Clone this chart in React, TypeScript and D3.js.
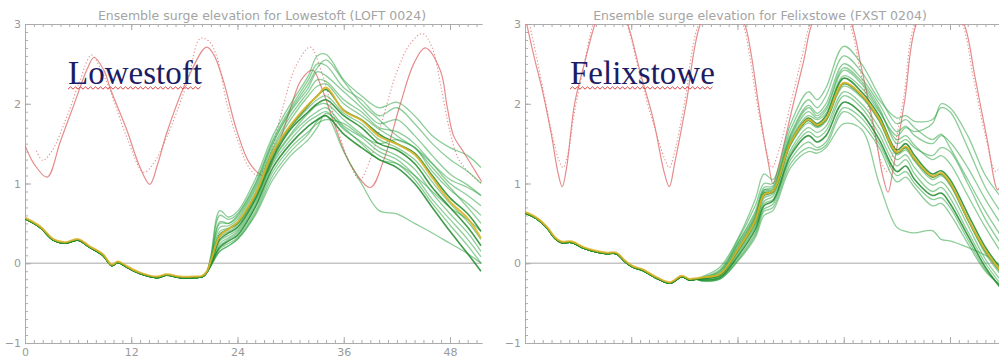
import React, { useRef, useEffect } from "react";
import * as d3 from "d3";

// ---- Lowestoft (left panel) ----
const tideHoursL = [0, 1, 2.5, 4, 5.5, 7, 7.8, 9, 9.6, 11.5, 13, 14.1, 15, 16, 18.3, 20.5, 21.3, 22.4, 23.9, 25.4, 27, 28.5, 30, 31.2, 32.5, 33.5, 34.8, 36.7, 39, 40.5, 42.4, 43.9, 45.2, 46.9, 47.7, 48.4, 49.5, 50.5, 51.6];
const tideL = [1.48, 1.25, 1.08, 1.53, 1.98, 2.43, 2.58, 2.4, 2.2, 1.67, 1.2, 0.99, 1.25, 1.63, 2.3, 2.71, 2.62, 2.29, 1.67, 1.25, 1.1, 1.45, 1.95, 2.3, 2.42, 2.2, 1.79, 1.25, 0.95, 1.29, 2.0, 2.5, 2.7, 2.42, 1.95, 1.6, 1.4, 1.22, 1.02];
const tideDotHoursL = [1.3, 2.0, 3, 4.7, 6.2, 7.5, 8.5, 9.6, 11.5, 13.4, 14.5, 16, 18.3, 19.8, 20.8, 21.7, 22.8, 24, 25.3, 26.3, 27.5, 29, 30.5, 32.2, 33.5, 35, 36.5, 37.8, 39, 40.5, 42, 43.5, 44.9, 46, 47, 48, 49, 50.5, 51.6];
const tideDotL = [1.41, 1.29, 1.4, 1.83, 2.29, 2.61, 2.45, 2.17, 1.58, 1.14, 1.25, 1.58, 2.26, 2.82, 2.78, 2.58, 2.0, 1.55, 1.2, 1.1, 1.3, 1.9, 2.45, 2.71, 2.4, 1.8, 1.3, 1.05, 1.3, 1.85, 2.4, 2.75, 2.88, 2.7, 2.2, 1.65, 1.3, 1.1, 1.0];

const leadHoursL = [0, 1.7, 3.2, 4.5, 6, 7.3, 8.8, 9.8, 10.5, 11.5, 13, 14.9, 16, 17.5, 19, 20, 20.5];
const leadL = [0.56, 0.45, 0.29, 0.25, 0.29, 0.2, 0.1, -0.03, 0.01, -0.05, -0.13, -0.18, -0.15, -0.18, -0.18, -0.17, -0.12];
const memberHoursL = [21, 22, 23, 24, 26, 28, 30, 32, 33, 34, 36, 38, 40, 42, 44, 46, 48, 50, 51.5];
const membersL = [
  [0.1, 0.66, 0.58, 0.65, 1.05, 1.6, 2.0, 2.35, 2.6, 2.62, 2.3, 2.1, 1.95, 2.02, 1.85, 1.6, 1.45, 1.35, 1.2],
  [0.08, 0.6, 0.55, 0.62, 1.0, 1.55, 1.95, 2.3, 2.5, 2.48, 2.2, 2.05, 1.85, 1.95, 1.75, 1.5, 1.3, 1.15, 1.0],
  [0.05, 0.52, 0.5, 0.58, 0.95, 1.5, 1.9, 2.2, 2.4, 2.35, 2.15, 1.95, 1.75, 1.8, 1.6, 1.35, 1.12, 0.98, 0.85],
  [0.05, 0.45, 0.47, 0.55, 0.92, 1.45, 1.85, 2.15, 2.3, 2.28, 2.05, 1.9, 1.7, 1.65, 1.5, 1.25, 1.0, 0.85, 0.72],
  [0.04, 0.4, 0.44, 0.52, 0.88, 1.42, 1.8, 2.1, 2.22, 2.25, 2.0, 1.85, 1.68, 1.55, 1.45, 1.15, 0.92, 0.75, 0.6],
  [0.02, 0.36, 0.43, 0.5, 0.85, 1.38, 1.72, 1.98, 2.1, 2.18, 1.92, 1.8, 1.62, 1.5, 1.38, 1.1, 0.82, 0.62, 0.4],
  [0.02, 0.33, 0.4, 0.48, 0.82, 1.35, 1.7, 1.95, 2.05, 2.1, 1.88, 1.75, 1.55, 1.45, 1.3, 1.02, 0.75, 0.52, 0.3],
  [0.0, 0.3, 0.38, 0.45, 0.8, 1.32, 1.68, 1.9, 2.0, 2.05, 1.85, 1.7, 1.5, 1.42, 1.25, 0.95, 0.7, 0.45, 0.22],
  [0.0, 0.28, 0.35, 0.42, 0.78, 1.3, 1.62, 1.88, 1.98, 2.0, 1.8, 1.62, 1.45, 1.35, 1.18, 0.88, 0.62, 0.38, 0.15],
  [0.0, 0.25, 0.32, 0.4, 0.75, 1.28, 1.6, 1.82, 1.9, 1.95, 1.72, 1.58, 1.4, 1.3, 1.1, 0.8, 0.55, 0.3, 0.08],
  [-0.02, 0.22, 0.3, 0.38, 0.72, 1.25, 1.55, 1.78, 1.85, 1.9, 1.68, 1.52, 1.35, 1.25, 1.05, 0.75, 0.48, 0.22, 0.0],
  [-0.02, 0.2, 0.28, 0.35, 0.7, 1.2, 1.5, 1.72, 1.8, 1.85, 1.62, 1.45, 1.3, 1.2, 1.0, 0.7, 0.4, 0.12, -0.1],
  [-0.03, 0.18, 0.25, 0.32, 0.65, 1.15, 1.45, 1.65, 1.75, 1.8, 1.75, 1.6, 1.5, 1.55, 1.45, 1.25, 1.05, 0.95, 0.85],
  [-0.03, 0.15, 0.22, 0.3, 0.62, 1.1, 1.4, 1.62, 1.78, 1.85, 1.4, 1.0, 0.66, 0.62, 0.5, 0.38, 0.25, 0.12, 0.0],
  [-0.03, 0.15, 0.22, 0.3, 0.6, 1.05, 1.35, 1.55, 1.7, 1.88, 1.7, 1.5, 1.3, 1.25, 1.1, 0.9, 0.7, 0.55, 0.4],
  [0.06, 0.5, 0.5, 0.6, 0.98, 1.52, 1.92, 2.25, 2.45, 2.55, 2.28, 2.0, 1.8, 1.6, 1.45, 1.2, 0.95, 0.7, 0.5],
];
const darkL = [5, 7, 11];
const meanL = [0.02, 0.33, 0.42, 0.5, 0.85, 1.38, 1.72, 1.98, 2.08, 2.19, 1.9, 1.78, 1.58, 1.48, 1.35, 1.06, 0.76, 0.55, 0.3];

// ---- Felixstowe (right panel) ----
const tideHoursR = [0, 1, 2, 3, 3.7, 4.2, 4.7, 5.6, 6.7, 7.9, 9.7, 11.6, 13, 14.5, 15.7, 16.3, 16.9, 18.2, 19.8, 22.3, 24.8, 25.5, 26.5, 27.5, 28.0, 28.6, 30.2, 31.5, 32.4, 34.8, 36.9, 38, 39.5, 40.4, 41, 41.6, 42.9, 44.2, 47, 49.6, 50.8, 52.2, 53.4, 54.5];
const tideR = [3.1, 2.6, 2.15, 1.6, 1.15, 0.96, 1.2, 2.0, 2.5, 3.0, 3.5, 3.0, 2.4, 1.8, 1.15, 0.96, 1.25, 2.0, 3.0, 3.5, 3.0, 2.65, 1.9, 1.25, 1.0, 1.2, 1.95, 2.55, 3.0, 3.5, 3.0, 2.45, 1.65, 1.1, 0.89, 1.2, 2.05, 3.0, 3.5, 3.0, 2.35, 1.55, 0.92, 1.5];
const tideDotHoursR = [0, 1, 2, 3, 3.8, 4.3, 4.8, 5.6, 6.7, 7.7, 9.6, 11.5, 13, 14.5, 15.8, 16.3, 16.8, 18, 19.6, 22.2, 24.6, 25.3, 26.3, 27.4, 27.9, 28.5, 30, 31.3, 32.2, 34.6, 36.7, 37.8, 39.3, 40.3, 40.9, 41.5, 42.8, 44, 46.8, 49.4, 50.6, 52, 53.2, 54.5];
const tideDotR = [3.25, 2.75, 2.2, 1.65, 1.3, 1.2, 1.35, 1.9, 2.5, 3.0, 3.5, 3.0, 2.35, 1.75, 1.3, 1.2, 1.35, 2.0, 3.0, 3.5, 3.0, 2.65, 1.95, 1.35, 1.2, 1.35, 2.0, 2.6, 3.0, 3.5, 3.0, 2.45, 1.7, 1.25, 1.15, 1.35, 2.1, 3.0, 3.5, 3.0, 2.35, 1.6, 1.15, 1.5];

const leadHoursR = [0, 1.3, 2.5, 3.4, 4.1, 5.3, 6.6, 8.1, 9.2, 10.3, 11.3, 12.2, 13.3, 14.9, 16.4, 17.7, 18.6, 19.3];
const leadR = [0.63, 0.56, 0.44, 0.31, 0.26, 0.26, 0.19, 0.14, 0.12, 0.12, 0.02, -0.05, -0.09, -0.19, -0.25, -0.17, -0.21, -0.2];
const memberHoursR = [20, 22, 24, 26, 27, 28, 30, 32, 33, 34, 36, 38, 40, 42, 43, 44, 46, 47, 48, 50, 52, 54];
const membersR = [
  [-0.17, -0.05, 0.3, 0.8, 1.12, 1.05, 1.75, 2.15, 2.05, 2.2, 2.72, 2.5, 2.1, 1.75, 1.8, 1.7, 1.55, 1.62, 1.45, 1.05, 0.65, 0.3],
  [-0.18, -0.08, 0.28, 0.72, 1.0, 1.0, 1.68, 2.05, 1.95, 2.1, 2.6, 2.4, 2.05, 1.82, 1.85, 1.78, 1.8, 1.95, 1.9, 1.45, 0.95, 0.6],
  [-0.18, -0.1, 0.25, 0.65, 0.95, 0.97, 1.62, 1.98, 1.88, 2.0, 2.5, 2.32, 2.0, 1.65, 1.72, 1.6, 1.5, 1.6, 1.52, 1.2, 0.8, 0.45],
  [-0.19, -0.12, 0.2, 0.6, 0.92, 0.93, 1.58, 1.9, 1.82, 1.92, 2.42, 2.25, 1.92, 1.55, 1.6, 1.48, 1.3, 1.35, 1.25, 0.85, 0.45, 0.1],
  [-0.19, -0.14, 0.17, 0.55, 0.88, 0.9, 1.52, 1.82, 1.75, 1.85, 2.32, 2.15, 1.85, 1.42, 1.5, 1.35, 1.12, 1.16, 1.05, 0.62, 0.2, -0.1],
  [-0.2, -0.15, 0.14, 0.5, 0.82, 0.87, 1.48, 1.76, 1.7, 1.78, 2.22, 2.08, 1.78, 1.36, 1.42, 1.28, 1.05, 1.1, 0.98, 0.55, 0.12, -0.18],
  [-0.2, -0.16, 0.12, 0.48, 0.78, 0.84, 1.42, 1.7, 1.64, 1.72, 2.15, 2.0, 1.7, 1.3, 1.36, 1.2, 0.98, 1.02, 0.9, 0.48, 0.05, -0.25],
  [-0.21, -0.17, 0.1, 0.45, 0.75, 0.8, 1.38, 1.65, 1.58, 1.66, 2.1, 1.95, 1.62, 1.22, 1.3, 1.12, 0.9, 0.95, 0.82, 0.4, 0.0, -0.3],
  [-0.21, -0.18, 0.08, 0.42, 0.72, 0.78, 1.35, 1.6, 1.52, 1.6, 2.02, 1.88, 1.55, 1.15, 1.22, 1.05, 0.85, 0.88, 0.75, 0.35, -0.05, -0.35],
  [-0.22, -0.19, 0.05, 0.38, 0.68, 0.74, 1.3, 1.52, 1.45, 1.52, 1.95, 1.82, 1.5, 1.1, 1.15, 1.0, 0.8, 0.82, 0.7, 0.3, -0.08, -0.32],
  [-0.22, -0.2, 0.03, 0.35, 0.65, 0.7, 1.25, 1.45, 1.42, 1.48, 1.9, 1.75, 1.45, 1.02, 1.08, 0.95, 0.72, 0.75, 0.62, 0.25, -0.1, -0.3],
  [-0.22, -0.2, 0.02, 0.32, 0.6, 0.66, 1.2, 1.4, 1.38, 1.45, 1.75, 1.68, 1.0, 0.45, 0.4, 0.38, 0.41, 0.3, 0.28, 0.2, 0.1, -0.05],
  [-0.2, -0.13, 0.22, 0.58, 0.9, 0.92, 1.55, 1.85, 1.8, 1.88, 2.35, 2.2, 1.9, 1.6, 1.7, 1.65, 1.75, 2.0, 1.95, 1.6, 1.1, 0.8],
  [-0.19, -0.1, 0.24, 0.62, 0.92, 0.95, 1.6, 1.95, 1.85, 1.95, 2.45, 2.28, 1.95, 1.5, 1.55, 1.45, 1.35, 1.45, 1.4, 1.0, 0.55, 0.2],
  [-0.19, -0.15, 0.15, 0.52, 0.85, 0.89, 1.5, 1.79, 1.72, 1.8, 2.25, 2.1, 1.8, 1.38, 1.45, 1.3, 1.08, 1.12, 1.0, 0.55, 0.15, -0.15],
];
const darkR = [4, 8, 14];
const meanR = [-0.19, -0.15, 0.15, 0.52, 0.85, 0.89, 1.5, 1.79, 1.72, 1.8, 2.25, 2.1, 1.8, 1.38, 1.45, 1.3, 1.08, 1.12, 1.0, 0.55, 0.15, -0.15];

const yTicks = [-1, 0, 1, 2, 3];
const xTicks = [0, 12, 24, 36, 48];

const panels = [
  {
    id: "L", title: "Ensemble surge elevation for Lowestoft (LOFT 0024)", name: "Lowestoft",
    titleX: 262, nameX: 68, x0: 25, hourMax: 51.6, labels: true,
    tide: [tideHoursL, tideL], tideDot: [tideDotHoursL, tideDotL],
    lead: [leadHoursL, leadL], memberHours: memberHoursL, members: membersL, dark: darkL, mean: meanL,
  },
  {
    id: "R", title: "Ensemble surge elevation for Felixstowe (FXST 0204)", name: "Felixstowe",
    titleX: 760, nameX: 570, x0: 525, hourMax: 54.5, labels: false,
    tide: [tideHoursR, tideR], tideDot: [tideDotHoursR, tideDotR],
    lead: [leadHoursR, leadR], memberHours: memberHoursR, members: membersR, dark: darkR, mean: meanR,
  },
];

const W = 999, H = 360;
const PX_PER_HOUR = 8.854;
const axisColor = "#ababab";

const App = () => {
  const node: any = useRef();

  useEffect(() => {
    const svg = d3.select(node.current);
    svg.selectAll("*").remove();
    const y = d3.scaleLinear().domain([-1, 3]).range([343, 24]);

    panels.forEach((p) => {
      const x = d3.scaleLinear().domain([0, p.hourMax]).range([p.x0, p.x0 + p.hourMax * PX_PER_HOUR]);
      const [xa, xb] = x.range();
      const g = svg.append("g");

      // clip
      svg.append("clipPath").attr("id", "clip" + p.id)
        .append("rect").attr("x", xa).attr("y", y(3)).attr("width", xb - xa).attr("height", y(-1) - y(3));

      // title
      g.append("text").attr("x", p.titleX).attr("y", 20).attr("text-anchor", "middle")
        .attr("font-family", "DejaVu Sans, sans-serif").attr("font-size", 12.5).attr("fill", "#a4a4a4")
        .text(p.title);

      // zero line
      g.append("line").attr("x1", xa).attr("x2", xb).attr("y1", y(0)).attr("y2", y(0))
        .attr("stroke", "#c4c4c4").attr("stroke-width", 1.5);

      const styleAxis = (sel: any) => {
        sel.select(".domain").attr("stroke", axisColor);
        sel.selectAll("line").attr("stroke", axisColor);
        sel.selectAll("text").attr("fill", "#999").attr("font-family", "DejaVu Sans, sans-serif").attr("font-size", 11);
      };

      // y axis
      g.append("g").attr("transform", `translate(${xa},0)`)
        .call(d3.axisLeft(y).tickValues(d3.range(-1, 3.001, 0.1)).tickSizeInner(-3).tickSizeOuter(0).tickFormat(() => ""))
        .call(styleAxis);
      g.append("g").attr("transform", `translate(${xa},0)`)
        .call(d3.axisLeft(y).tickValues(yTicks).tickSizeInner(-6).tickSizeOuter(0).tickPadding(4).tickFormat(d3.format("d")))
        .call(styleAxis);

      // bottom axis
      const minorX = d3.range(0, p.hourMax + 0.001, 1);
      g.append("g").attr("transform", `translate(0,${y(-1)})`)
        .call(d3.axisBottom(x).tickValues(minorX).tickSizeInner(-3).tickSizeOuter(0).tickFormat(() => ""))
        .call(styleAxis);
      g.append("g").attr("transform", `translate(0,${y(-1)})`)
        .call(d3.axisBottom(x).tickValues(xTicks).tickSizeInner(-6).tickSizeOuter(0).tickPadding(5)
          .tickFormat((d: any) => (p.labels ? String(d) : "")))
        .call(styleAxis);

      // top axis
      g.append("g").attr("transform", `translate(0,${y(3)})`)
        .call(d3.axisTop(x).tickValues(minorX).tickSizeInner(-3).tickSizeOuter(0).tickFormat(() => ""))
        .call(styleAxis);
      g.append("g").attr("transform", `translate(0,${y(3)})`)
        .call(d3.axisTop(x).tickValues(xTicks).tickSizeInner(-6).tickSizeOuter(0).tickFormat(() => ""))
        .call(styleAxis);

      const plot = g.append("g").attr("clip-path", `url(#clip${p.id})`);
      const line = d3.line<[number, number]>()
        .x((d) => x(d[0])).y((d) => y(d[1]))
        .curve(d3.curveCatmullRom.alpha(0.5));
      const pairs = (hs: number[], vs: number[]) => hs.map((h, i) => [h, vs[i]] as [number, number]);
      const withLead = (vs: number[]) => pairs(p.lead[0], p.lead[1]).concat(pairs(p.memberHours, vs));

      // tide lines
      plot.append("path").attr("d", line(pairs(p.tideDot[0], p.tideDot[1])))
        .attr("fill", "none").attr("stroke", "#e58a8a").attr("stroke-width", 1.1).attr("stroke-dasharray", "1.2,2.2");
      plot.append("path").attr("d", line(pairs(p.tide[0], p.tide[1])))
        .attr("fill", "none").attr("stroke", "#e07878").attr("stroke-width", 1.2).attr("opacity", 0.85);

      // ensemble members
      p.members.forEach((m, i) => {
        if (p.dark.includes(i)) return;
        plot.append("path").attr("d", line(withLead(m)))
          .attr("fill", "none").attr("stroke", "#30a444").attr("stroke-width", 1.3).attr("opacity", 0.55);
      });
      p.dark.forEach((i) => {
        plot.append("path").attr("d", line(withLead(p.members[i])))
          .attr("fill", "none").attr("stroke", "#1f8a2a").attr("stroke-width", 1.6).attr("opacity", 0.85);
      });
      plot.append("path").attr("d", line(withLead(p.mean))).attr("transform", "translate(0,-1)")
        .attr("fill", "none").attr("stroke", "#dcb42a").attr("stroke-width", 2).attr("opacity", 0.9);

      // station label with wavy underline
      const label = g.append("text").attr("x", p.nameX).attr("y", 84)
        .attr("font-family", "Liberation Serif, Times New Roman, serif").attr("font-size", 33)
        .attr("fill", "#1c1c64").text(p.name);
      const wLabel = (label.node() as SVGTextElement).getComputedTextLength();
      const zig: [number, number][] = d3.range(0, Math.floor(wLabel / 2.5) + 1).map((k) => [p.nameX + k * 2.5, 88 + (k % 2 ? -1.2 : 1.2)]);
      g.append("path").attr("d", d3.line()(zig)).attr("fill", "none").attr("stroke", "#d83030").attr("stroke-width", 0.9);
    });
  }, []);

  return (
    <svg ref={node} width={W} height={H} style={{ position: "absolute", left: 0, top: 0, background: "#fff" }}></svg>
  );
};

export default App;
